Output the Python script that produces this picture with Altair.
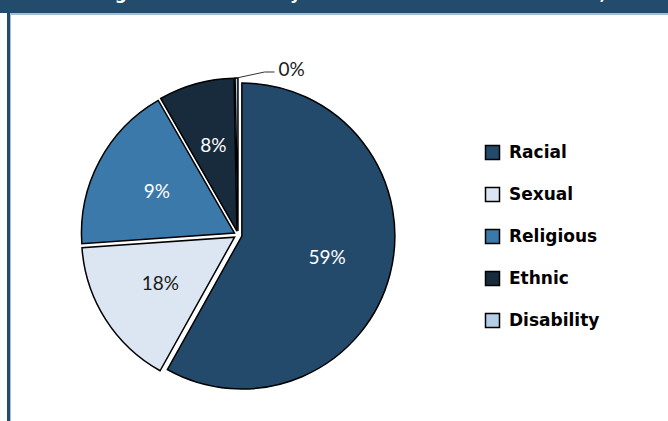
import math
import altair as alt
import pandas as pd

# ---- data ----
categories = ["Racial", "Sexual", "Religious", "Ethnic", "Disability"]
values = [58.1, 15.8, 17.8, 8.0, 0.3]
labels = ["59%", "18%", "9%", "8%", "0%"]
colors = ["#244A6B", "#DCE6F2", "#3A79AA", "#172B3D", "#B4CEE6"]
label_colors = ["#FFFFFF", "#1A1A1A", "#FFFFFF", "#FFFFFF", "#1A1A1A"]
title_text = "Percentage of hate crime by motive as recorded to the MET, 2013"

# ---- layout ----
W, H = 668, 421
CX, CY, R, EXPLODE, LR = 238, 235, 153, 4, 92
HEADER = "#234B6B"
LIGHT = "#A9BDD1"

df = pd.DataFrame({
    "category": categories,
    "value": values,
    "label": labels,
    "lc": label_colors,
    "order": list(range(len(categories))),
})

base = (
    alt.Chart(df)
    .transform_window(end="sum(value)", sort=[alt.SortField("order")], frame=[None, 0])
    .transform_calculate(start="datum.end - datum.value",
                         ang="(datum.end - datum.value/2)/100*2*PI")
    .transform_calculate(
        px=f"{CX} + {EXPLODE}*sin(datum.ang)",
        py=f"{CY} - {EXPLODE}*cos(datum.ang)",
        lx=f"{CX} + {LR}*sin(datum.ang)",
        ly=f"{CY} - {LR}*cos(datum.ang)",
        ox=f"{CX} + {R + EXPLODE}*sin(datum.ang)",
        oy=f"{CY} - {R + EXPLODE}*cos(datum.ang)",
    )
    .transform_calculate(ex="datum.ox + 28", ey="datum.oy - 6")
    .transform_calculate(ex2="datum.ex + 10")
)

arcs = base.mark_arc(outerRadius=R, stroke="black", strokeWidth=1.5).encode(
    theta=alt.Theta("start:Q", stack=None,
                    scale=alt.Scale(domain=[0, 100], range=[0, 2 * math.pi])),
    theta2="end:Q",
    x=alt.X("px:Q", scale=None),
    y=alt.Y("py:Q", scale=None),
    color=alt.Color(
        "category:N",
        scale=alt.Scale(domain=categories, range=colors),
        sort=categories,
        legend=alt.Legend(
            title=None, orient="none", legendX=484, legendY=144,
            symbolType="square", symbolSize=196, symbolStrokeColor="black",
            symbolStrokeWidth=1.5, symbolOpacity=1,
            labelFont="DejaVu Sans", labelFontSize=17, labelFontWeight="bold",
            labelColor="black", rowPadding=21, labelOffset=8, padding=0,
        ),
    ),
)

inner_labels = base.transform_filter("datum.value > 1").mark_text(
    font="Lato", fontSize=19, align="center", baseline="middle"
).encode(
    x=alt.X("lx:Q", scale=None),
    y=alt.Y("ly:Q", scale=None),
    text="label:N",
    color=alt.Color("lc:N", scale=None),
)

small = base.transform_filter("datum.value <= 1")
leader1 = small.mark_rule(color="#333333", strokeWidth=1).encode(
    x=alt.X("ox:Q", scale=None), y=alt.Y("oy:Q", scale=None),
    x2="ex:Q", y2="ey:Q",
)
leader2 = small.mark_rule(color="#333333", strokeWidth=1).encode(
    x=alt.X("ex:Q", scale=None), y=alt.Y("ey:Q", scale=None),
    x2="ex2:Q", y2="ey:Q",
)
outer_label = small.mark_text(
    font="Lato", fontSize=19, align="left", baseline="middle", dx=4, dy=-2
).encode(
    x=alt.X("ex2:Q", scale=None),
    y=alt.Y("ey:Q", scale=None),
    text="label:N",
    color=alt.Color("lc:N", scale=None),
)

one = alt.Chart(pd.DataFrame({"a": [0]}))
header = one.mark_rect(color=HEADER).encode(
    x=alt.value(0), x2=alt.value(W), y=alt.value(0), y2=alt.value(13))
header_line = one.mark_rect(color=LIGHT).encode(
    x=alt.value(10), x2=alt.value(W), y=alt.value(13), y2=alt.value(15))
left_band = one.mark_rect(color=HEADER).encode(
    x=alt.value(7), x2=alt.value(10), y=alt.value(13), y2=alt.value(H))
left_line = one.mark_rect(color=LIGHT).encode(
    x=alt.value(10), x2=alt.value(11), y=alt.value(15), y2=alt.value(H))
title = one.mark_text(
    font="DejaVu Sans", fontSize=17, fontWeight="bold", color="white",
    align="left", baseline="alphabetic"
).encode(x=alt.value(29), y=alt.value(-1), text=alt.value(title_text))

chart = (
    alt.layer(header, header_line, left_band, left_line, title,
              arcs, inner_labels, leader1, leader2, outer_label)
    .resolve_scale(color="independent")
    .properties(width=W, height=H, padding=0, background="white",
                autosize=alt.AutoSizeParams(type="none"))
    .configure_view(stroke=None)
)

chart.save("out.html", embed_options={"renderer": "svg", "actions": False})
